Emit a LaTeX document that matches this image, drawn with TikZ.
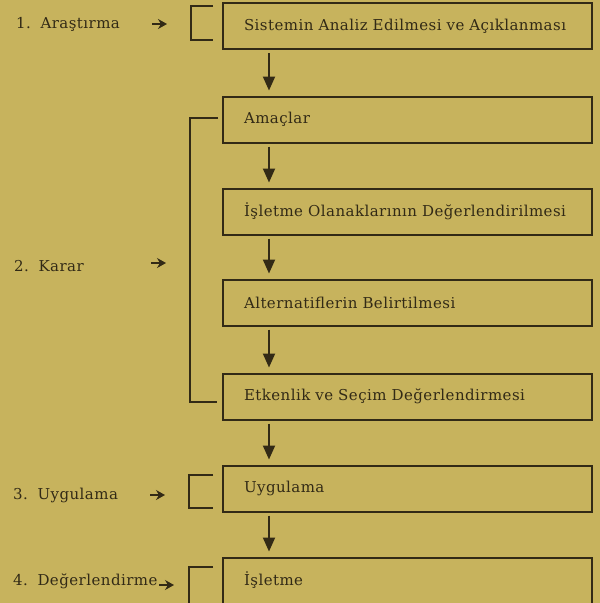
\documentclass[tikz,border=0pt]{standalone}
\usepackage{fontspec}
\setmainfont[WordSpace=1.5,LetterSpace=3]{DejaVu Serif}
\usepackage{tikz}
\usetikzlibrary{arrows.meta}

\definecolor{kagit}{RGB}{199,179,93}
\definecolor{murekkep}{RGB}{50,42,22}

\begin{document}
\begin{tikzpicture}[x=1pt,y=-1pt]
        \tikzstyle{every node}=[text=murekkep,font=\fontsize{15}{18}\selectfont]
        \tikzstyle{kutu}=[draw=murekkep,line width=2pt,anchor=west,minimum height=46pt,inner xsep=0pt,text width=369pt,align=left,execute at begin node=\hspace*{21pt}]
        \tikzstyle{etiket}=[anchor=west,inner sep=0pt]
        \tikzstyle{ok}=[draw=murekkep,line width=2pt,-{Triangle[length=14pt,width=12pt]},shorten <=3pt,shorten >=5pt]
        \tikzstyle{kucukok}=[draw=murekkep,line width=1.3pt,-{Stealth[length=9pt,width=10pt,inset=3pt]}]
        \tikzstyle{parantez}=[draw=murekkep,line width=2pt]

            \useasboundingbox (0,0) rectangle (600,603);
            \fill[kagit] (0,0) rectangle (600,603);
            \clip (0,0) rectangle (600,603);

            % kutular
            \node[kutu] (b1) at (222,26) {Sistemin Analiz Edilmesi ve Açıklanması};
            \node[kutu] (b2) at (222,119.5) {Amaçlar};
            \node[kutu] (b3) at (222,211.5) {İşletme Olanaklarının Değerlendirilmesi};
            \node[kutu] (b4) at (222,302.5) {Alternatiflerin Belirtilmesi};
            \node[kutu] (b5) at (222,396.5) {Etkenlik ve Seçim Değerlendirmesi};
            \node[kutu] (b6) at (222,488.5) {Uygulama};
            \node[kutu] (b7) at (222,580.5) {İşletme};

            % asamalar
            \node[etiket] (e1) at (16,24) {1. Araştırma};
            \node[etiket] (e2) at (14,266) {2. Karar};
            \node[etiket] (e3) at (13,495) {3. Uygulama};
            \node[etiket] (e4) at (13,581) {4. Değerlendirme};
            \coordinate (o1) at (152,24);
            \coordinate (o2) at (151,263);
            \coordinate (o3) at (150,495);
            \coordinate (o4) at (159,585);
            \draw[kucukok] (o1) -- ++(15,0);
            \draw[kucukok] (o2) -- ++(15,0);
            \draw[kucukok] (o3) -- ++(15,0);
            \draw[kucukok] (o4) -- ++(15,0);

            \draw[ok] ([xshift=47pt]b1.south west) -- ([xshift=47pt]b2.north west);
            \draw[ok] ([xshift=47pt]b2.south west) -- ([xshift=47pt]b3.north west);
            \draw[ok] ([xshift=47pt]b3.south west) -- ([xshift=47pt]b4.north west);
            \draw[ok] ([xshift=47pt]b4.south west) -- ([xshift=47pt]b5.north west);
            \draw[ok] ([xshift=47pt]b5.south west) -- ([xshift=47pt]b6.north west);
            \draw[ok] ([xshift=47pt]b6.south west) -- ([xshift=47pt]b7.north west);

            \coordinate (k1) at (218,118);
            \coordinate (k2) at (217,402);
            \draw[parantez] (k1) -- (190,118) -- (190,402) -- (k2);
            \draw[parantez] (213,6) -- (191,6) -- (191,40) -- (213,40)
            (213,475) -- (189,475) -- (189,508) -- (213,508)
            (213,567) -- (189,567) -- (189,610)
            ;
        \end{tikzpicture}
\end{document}
